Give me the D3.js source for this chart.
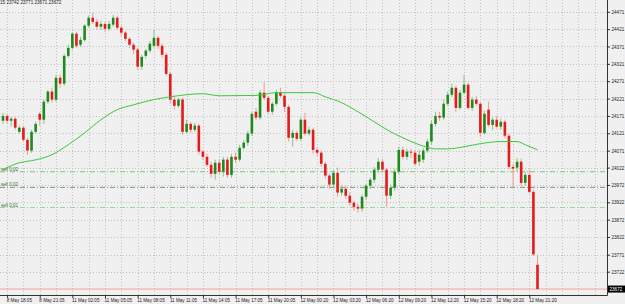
<!DOCTYPE html>
<html>
<head>
<meta charset="utf-8">
<title>M15 chart</title>
<style>
  body { margin: 0; background: #f0f0f0; }
  svg { display: block; font-family: "Liberation Sans", Arial, sans-serif; }
  .grid line { stroke: #c2c2c2; stroke-dasharray: 1,2; shape-rendering: crispEdges; }
  .axis text { font-size: 4.6px; fill: #1a1a1a; }
  .axis line { stroke: #333; }
  .order text { font-size: 4.6px; fill: #3f6f3f; }
</style>
<script src="https://d3js.org/d3.v7.min.js"></script>
</head>
<body>
<svg id="chart" width="625" height="304"></svg>
<script>
var header = "15 23742 23771 23671 23672";

var opens = [24157,24171,24157,24163,24125,24137,24102,24071,24125,24177,
  24160,24212,24241,24218,24281,24264,24344,24367,24408,24376,
  24390,24431,24454,24442,24428,24436,24422,24434,24454,24425,
  24411,24393,24376,24362,24313,24344,24359,24373,24396,24373,
  24347,24292,24218,24200,24218,24125,24148,24131,24143,24068,
  24053,24030,24004,24036,24010,24045,24001,24053,24045,24079,
  24094,24120,24183,24166,24238,24223,24183,24206,24238,24229,
  24197,24108,24122,24105,24160,24120,24131,24073,24065,24033,
  23999,23973,24007,23950,23961,23941,23921,23909,23904,23938,
  23970,23987,24016,24039,24016,23941,23964,24010,24073,24053,
  24068,24065,24039,24045,24071,24097,24148,24171,24166,24206,
  24232,24252,24194,24238,24261,24194,24218,24206,24122,24189,
  24145,24160,24140,24154,24114,24024,24022,24039,23978,24001,
  23952,23742];
var highs = [24180,24177,24168,24168,24143,24143,24108,24131,24154,24183,
  24218,24246,24252,24290,24290,24350,24376,24413,24413,24399,
  24436,24460,24468,24451,24445,24442,24445,24462,24460,24431,
  24416,24399,24382,24367,24347,24364,24387,24419,24402,24379,
  24353,24298,24229,24223,24223,24160,24154,24151,24148,24073,
  24062,24039,24045,24045,24053,24053,24062,24065,24088,24102,
  24128,24183,24194,24246,24269,24229,24212,24246,24252,24235,
  24203,24131,24128,24166,24180,24140,24137,24079,24071,24039,
  24004,24016,24022,23970,23970,23950,23927,23918,23944,23975,
  23993,24024,24050,24048,24022,23973,24019,24082,24082,24076,
  24076,24073,24073,24079,24105,24157,24183,24183,24218,24241,
  24264,24258,24246,24290,24267,24226,24229,24212,24186,24212,
  24166,24171,24163,24160,24120,24033,24050,24048,24010,24016,
  23958,23771];
var lows = [24148,24148,24140,24131,24120,24097,24059,24065,24120,24143,
  24148,24206,24209,24212,24252,24258,24338,24362,24367,24370,
  24385,24425,24436,24419,24419,24413,24416,24428,24419,24402,
  24387,24367,24350,24304,24304,24336,24353,24367,24364,24338,
  24287,24206,24189,24194,24117,24120,24122,24125,24059,24045,
  24024,23993,23987,24001,23996,23993,23993,24036,24039,24073,
  24085,24114,24160,24160,24218,24177,24174,24200,24223,24183,
  24097,24082,24099,24099,24114,24114,24062,24056,24024,23990,
  23961,23964,23938,23941,23932,23912,23898,23892,23895,23929,
  23961,23978,24007,24010,23909,23932,23955,24004,24045,24045,
  24050,24027,24027,24036,24065,24088,24140,24157,24160,24200,
  24226,24183,24189,24232,24189,24186,24200,24111,24117,24140,
  24131,24134,24131,24108,24016,23967,24010,23970,23970,23947,
  23768,23671];
var closes = [24171,24157,24163,24137,24137,24102,24071,24125,24148,24160,
  24212,24241,24218,24281,24264,24344,24367,24408,24373,24390,
  24431,24454,24442,24428,24436,24422,24436,24454,24425,24411,
  24393,24376,24362,24313,24341,24359,24379,24396,24373,24347,
  24292,24218,24200,24218,24125,24148,24131,24143,24068,24053,
  24030,24004,24036,24010,24045,24001,24053,24045,24079,24094,
  24120,24177,24166,24238,24223,24183,24206,24238,24229,24197,
  24108,24122,24105,24160,24120,24131,24073,24065,24033,23999,
  23973,24007,23950,23961,23941,23921,23909,23904,23938,23970,
  23987,24016,24039,24016,23941,23964,24010,24073,24053,24068,
  24065,24033,24059,24071,24097,24148,24171,24166,24206,24232,
  24252,24194,24238,24261,24194,24218,24206,24122,24177,24145,
  24160,24140,24154,24114,24024,24019,24039,23978,24001,23952,
  23772,23672];

// moving average at some bars
var maBars = [0,4,7,12,16,20,24,28,32,37,41,49,53,62,67,76,79,83,87,91,95,98,102,106,109,113,117,122,126,128,131];
var maValues = [24016,24036,24042,24059,24088,24122,24160,24189,24203,24218,24226,24235,24229,24230,24238,24238,24226,24209,24183,24154,24125,24108,24088,24076,24076,24082,24091,24097,24097,24088,24073];

var timeLabels = ["8 May 18:05","8 May 21:05","11 May 02:05","11 May 05:05","11 May 08:05",
  "11 May 11:05","11 May 14:05","11 May 17:05","11 May 20:05","12 May 00:20","12 May 03:20",
  "12 May 06:20","12 May 09:20","12 May 12:20","12 May 15:20","12 May 18:20","12 May 21:20"];
var priceTicks = [24471,24421,24371,24321,24271,24221,24171,24121,24071,24022,23972,23922,23872,23822,23771,23722];

var orderPrices = [24010,23965,23907];
var orderTexts = ["sell 0.02","sell 0.02","sell 0.01"];
var orderColors = ["#7cc47c","#6e9e6e","#9ed39e"];
var lastPrice = 23672;

var svg = d3.select("#chart");
var plotRight = 607, plotBottom = 295;
var n = closes.length;

var x = d3.scaleLinear().domain([0, n - 1]).range([3, 537.5]);
var y = d3.scaleLinear().domain([23722, 24471]).range([271.7, 11.8]);

// grid
var gridBars = d3.range(1, 160, 4).filter(function(i) { return x(i) < plotRight - 1; });
var grid = svg.append("g").attr("class", "grid");
grid.selectAll(".v").data(gridBars).enter().append("line")
  .attr("x1", function(d) { return Math.round(x(d)) + 0.5; })
  .attr("x2", function(d) { return Math.round(x(d)) + 0.5; })
  .attr("y1", 0).attr("y2", plotBottom);
grid.selectAll(".h").data(priceTicks).enter().append("line")
  .attr("x1", 0).attr("x2", plotRight)
  .attr("y1", function(d) { return Math.round(y(d)) + 0.5; })
  .attr("y2", function(d) { return Math.round(y(d)) + 0.5; });

// order lines
var orders = svg.append("g").attr("class", "order");
orders.selectAll("line").data(orderPrices).enter().append("line")
  .attr("x1", 0).attr("x2", plotRight)
  .attr("y1", function(d) { return y(d); }).attr("y2", function(d) { return y(d); })
  .attr("stroke", function(d, i) { return orderColors[i]; })
  .attr("stroke-dasharray", "5,2,1,2");
orders.selectAll("text").data(orderPrices).enter().append("text")
  .attr("x", 1).attr("y", function(d) { return y(d) - 1; })
  .text(function(d, i) { return orderTexts[i]; });

// bid line
svg.append("line")
  .attr("x1", 0).attr("x2", plotRight)
  .attr("y1", y(lastPrice)).attr("y2", y(lastPrice))
  .attr("stroke", "#f0a0a0").attr("stroke-width", 1);

// candles
var idx = d3.range(n);
var candles = svg.append("g");
candles.selectAll("line").data(idx).enter().append("line")
  .attr("x1", function(i) { return x(i); }).attr("x2", function(i) { return x(i); })
  .attr("y1", function(i) { return y(highs[i]); }).attr("y2", function(i) { return y(lows[i]); })
  .attr("stroke", function(i) { return closes[i] >= opens[i] ? "#86c486" : "#f09a9a"; })
  .attr("stroke-width", 1);
candles.selectAll("rect").data(idx).enter().append("rect")
  .attr("x", function(i) { return x(i) - 1.3; })
  .attr("width", 2.6)
  .attr("y", function(i) { return y(Math.max(opens[i], closes[i])); })
  .attr("height", function(i) { return Math.max(0.8, Math.abs(y(opens[i]) - y(closes[i]))); })
  .attr("fill", function(i) { return closes[i] >= opens[i] ? "#1d8a1d" : "#e31b1b"; });

// moving average
var ma = d3.line()
  .x(function(d, i) { return x(maBars[i]); })
  .y(function(d) { return y(d); })
  .curve(d3.curveMonotoneX);
svg.append("path").datum(maValues)
  .attr("d", ma).attr("fill", "none")
  .attr("stroke", "#3cc83c").attr("stroke-width", 1);

// axes
var yAxis = d3.axisRight(y).tickValues(priceTicks).tickFormat(d3.format("d")).tickSize(3).tickPadding(1.5);
var gy = svg.append("g").attr("class", "axis").attr("transform", "translate(" + plotRight + ",0)").call(yAxis);
gy.select(".domain").remove();
gy.selectAll("text").attr("dy", "0.35em");

var labelBars = timeLabels.map(function(d, j) { return 1 + 8 * j; });
var xAxis = d3.axisBottom(x).tickValues(labelBars)
  .tickFormat(function(d, j) { return timeLabels[j]; }).tickSize(3).tickPadding(1);
var gx = svg.append("g").attr("class", "axis").attr("transform", "translate(0," + plotBottom + ")").call(xAxis);
gx.select(".domain").remove();
gx.selectAll("text").attr("text-anchor", "start").attr("dx", "-0.2em");

svg.append("line").attr("x1", 0).attr("x2", plotRight + 0.5)
  .attr("y1", plotBottom + 0.5).attr("y2", plotBottom + 0.5).attr("stroke", "#333");
svg.append("line").attr("x1", plotRight + 0.5).attr("x2", plotRight + 0.5)
  .attr("y1", 0).attr("y2", plotBottom + 0.5).attr("stroke", "#333");

// current price box
svg.append("rect").attr("x", plotRight + 1).attr("y", y(lastPrice) - 3.5)
  .attr("width", 17).attr("height", 7).attr("fill", "#000");
svg.append("text").attr("x", plotRight + 2.5).attr("y", y(lastPrice)).attr("dy", "0.35em")
  .attr("font-size", "4.6px").attr("fill", "#fff").text(d3.format("d")(lastPrice));

// header
svg.append("text").attr("x", 0).attr("y", 4).attr("font-size", "4.6px").attr("fill", "#222").text(header);
</script>
</body>
</html>
